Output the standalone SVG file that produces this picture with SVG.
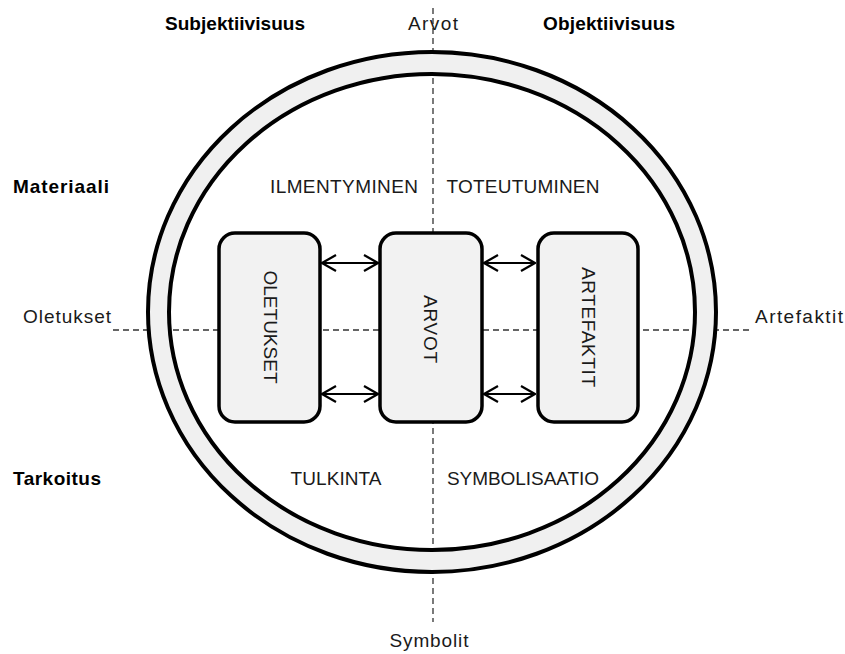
<svg xmlns="http://www.w3.org/2000/svg" width="845" height="654" viewBox="0 0 845 654">
  <defs>
    <style>
      .lbl { font-family: "Liberation Sans", Arial, sans-serif; font-size: 19px; fill: #1a1a1a; }
      .bold { font-weight: bold; fill: #000; }
      .axis { stroke: #333; stroke-width: 1.3; stroke-dasharray: 6 4; fill: none; }
      .box { fill: #f2f2f2; stroke: #000; stroke-width: 3.5; }
      .link { stroke: #000; stroke-width: 2; fill: none; marker-start: url(#chev); marker-end: url(#chev); }
    </style>
    <marker id="chev" viewBox="0 0 16 18" refX="15" refY="9" markerWidth="16" markerHeight="18" markerUnits="userSpaceOnUse" orient="auto-start-reverse">
      <path d="M1,1 L15,9 L1,17" fill="none" stroke="#000" stroke-width="2.2"/>
    </marker>
  </defs>

  <rect width="845" height="654" fill="#fff"/>

  <!-- dashed axes -->
  <g id="axes">
    <line class="axis" x1="433" y1="8" x2="433" y2="622"/>
    <line class="axis" x1="113" y1="330" x2="752" y2="330"/>
  </g>

  <!-- ring -->
  <g id="ring">
    <path d="M148,312 A284,260 0 1,0 716,312 A284,260 0 1,0 148,312 Z M169,312 A263,238 0 1,1 695,312 A263,238 0 1,1 169,312 Z" fill="#f0f0f0" fill-rule="evenodd"/>
    <ellipse cx="432" cy="312" rx="284" ry="260" fill="none" stroke="#000" stroke-width="4"/>
    <ellipse cx="432" cy="312" rx="263" ry="238" fill="none" stroke="#000" stroke-width="4"/>
  </g>

  <!-- connectors -->
  <g id="connectors">
    <line class="link" x1="322" y1="263" x2="378" y2="263"/>
    <line class="link" x1="322" y1="394" x2="378" y2="394"/>
    <line class="link" x1="484" y1="263" x2="535" y2="263"/>
    <line class="link" x1="484" y1="394" x2="535" y2="394"/>
  </g>

  <!-- nodes -->
  <g id="oletukset">
    <rect class="box" x="219" y="233" width="101" height="189" rx="16"/>
    <text class="lbl" x="270" y="327" text-anchor="middle" dominant-baseline="central" transform="rotate(90 270 327)" textLength="113">OLETUKSET</text>
  </g>
  <g id="arvot">
    <rect class="box" x="380" y="233" width="102" height="189" rx="16"/>
    <text class="lbl" x="430" y="329" text-anchor="middle" dominant-baseline="central" transform="rotate(90 430 329)" textLength="68">ARVOT</text>
  </g>
  <g id="artefaktit">
    <rect class="box" x="538" y="233" width="100" height="189" rx="16"/>
    <text class="lbl" x="588" y="327" text-anchor="middle" dominant-baseline="central" transform="rotate(90 588 327)" textLength="120">ARTEFAKTIT</text>
  </g>

  <!-- labels -->
  <g id="labels">
    <text class="lbl bold" x="235" y="30" text-anchor="middle" textLength="140">Subjektiivisuus</text>
    <text class="lbl" x="433" y="30" text-anchor="middle" textLength="50">Arvot</text>
    <text class="lbl bold" x="609" y="30" text-anchor="middle" textLength="132">Objektiivisuus</text>

    <text class="lbl bold" x="13" y="193" textLength="96">Materiaali</text>
    <text class="lbl" x="344" y="193" text-anchor="middle" textLength="148">ILMENTYMINEN</text>
    <text class="lbl" x="523" y="193" text-anchor="middle" textLength="153">TOTEUTUMINEN</text>

    <text class="lbl" x="23" y="323" textLength="88">Oletukset</text>
    <text class="lbl" x="755" y="323" textLength="88">Artefaktit</text>

    <text class="lbl bold" x="13" y="485" textLength="88">Tarkoitus</text>
    <text class="lbl" x="336" y="485" text-anchor="middle" textLength="91">TULKINTA</text>
    <text class="lbl" x="523" y="485" text-anchor="middle" textLength="152">SYMBOLISAATIO</text>

    <text class="lbl" x="429" y="647" text-anchor="middle" textLength="79">Symbolit</text>
  </g>
</svg>
